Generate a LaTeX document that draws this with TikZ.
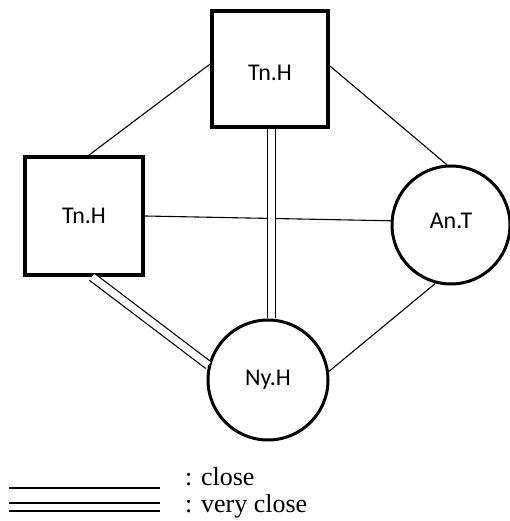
\documentclass[tikz,border=0pt]{standalone}
\usepackage{fontspec}
\setmainfont{Liberation Serif}
\newfontfamily\nodefont{Carlito}
\usetikzlibrary{calc}
\begin{document}
\begin{tikzpicture}[x=1pt,y=1pt,
  lbl/.style={font=\nodefont\fontsize{24}{28}\selectfont},
  sq/.style={draw, line width=3.8pt, minimum size=116pt, inner sep=0pt, lbl},
  ci/.style={circle, draw, line width=3pt, minimum size=118pt, inner sep=0pt, lbl},
  rel/.style={line width=1.1pt},
  vrel/.style={double, double distance=7.2pt, line width=1.2pt},
  legrel/.style={line width=2pt},
  legvrel/.style={double, double distance=6pt, line width=2pt},
  legtxt/.style={anchor=base west, inner sep=0pt, font=\fontsize{26}{30}\selectfont}]
\useasboundingbox (0,0) rectangle (509,521);
% nodes
\node[sq, text height=23.5pt, text depth=0pt] (ts) at (270,452) {Tn.H};
\node[sq, minimum size=118pt] (ls) at (84,305) {Tn.H};
\node[ci, text depth=8pt] (an) at (451,296) {An.T};
\node[ci, minimum size=120pt] (ny) at (268,141) {Ny.H};
% connectors
\draw[rel] ($(ls.north)+(5,0)$) -- ($(ts.west)+(0,5)$);
\draw[rel] ($(ts.east)+(0,3)$) -- (an.94);
\draw[rel] (ls.east) -- (an.176);
\draw[rel] (ny.8) -- (an.255);
\draw[vrel] ($(ts.south)+(1.5,0)$) -- ($(ny.north)+(3.5,0)$);
\draw[vrel] ($(ls.south)+(8,0)$) -- (ny.166);
% legend
\coordinate (l1a) at (9,33);
\coordinate (l1b) at (160,33);
\coordinate (l2a) at (9,14);
\coordinate (l2b) at (160,14);
\draw[legrel] (l1a) -- (l1b);
\draw[legvrel] (l2a) -- (l2b);
\node[legtxt] (t1) at (185,35) {: close};
\node[legtxt] (t2) at (185,9) {: very close};
\end{tikzpicture}
\end{document}
